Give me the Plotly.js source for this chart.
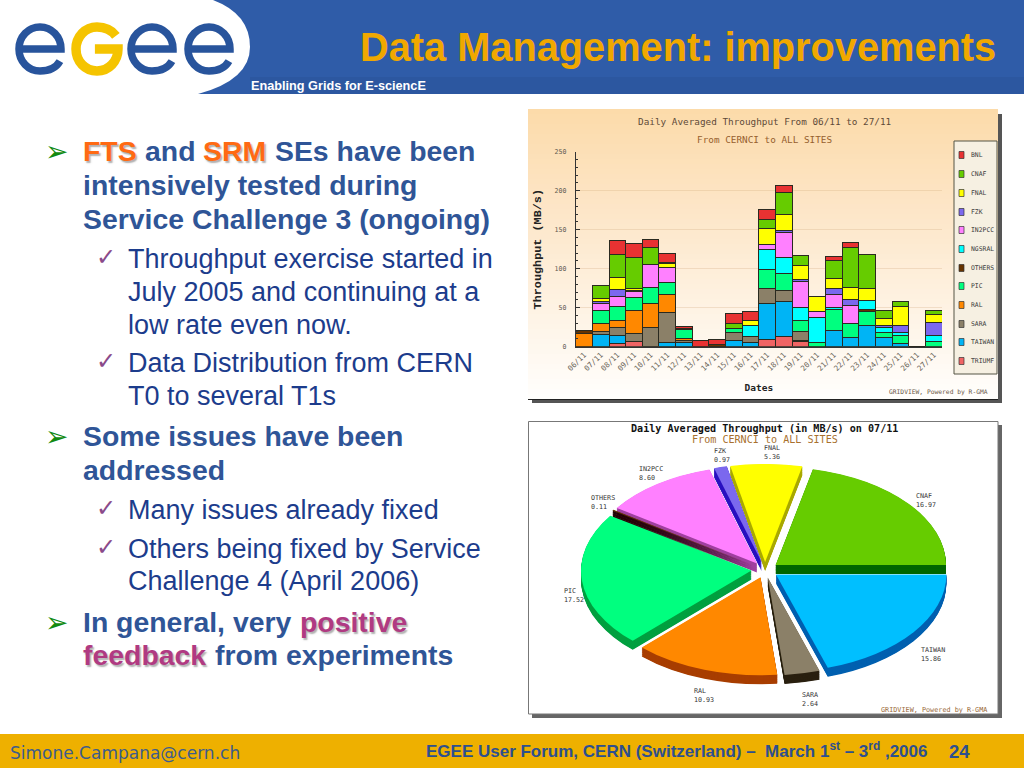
<!DOCTYPE html>
<html><head><meta charset="utf-8">
<script src="https://cdn.plot.ly/plotly-3.0.1.min.js"></script>
<style>html,body{margin:0;padding:0;background:#fff;overflow:hidden}
#main{position:absolute;left:0;top:0;width:1024px;height:768px}
#pie{position:absolute;left:580.6px;top:464.2px;width:368px;height:384px;transform:scaleY(0.575);transform-origin:0 0;pointer-events:none}
</style></head><body>
<div id="main"></div><div id="pie"></div>
<script>
// ---- stacked bar data (MB/s), one value per date
const dates=["06/11","07/11","08/11","09/11","10/11","11/11","12/11","13/11","14/11","15/11","16/11","17/11","18/11","19/11","20/11","21/11","22/11","23/11","24/11","25/11","26/11","27/11"];
const TRIUMF=[0,0,4,6.5,0,0,0,0,0,0,0,9.4,13.7,6.4,0,0,0,0,0,0,0,0];
const TAIWAN=[0,15.4,10.5,0,0,5.5,5.5,0,0,8.5,5.5,46.6,44,1.3,0,21.4,12,27.8,12,4.3,0,0];
const SARA=[0,4.3,9.5,10.5,24.8,38,3,0,0,9.9,7.3,18.8,14.5,11.5,0,0,0,0,0,0,0,0];
const RAL=[17,10.3,10,29,30.2,23.5,2.2,0,0,0,0,0,0,0,0,0,0,0,0,0,0,0];
const PIC=[0,17,17,17,21,15.5,11.3,0,0,5.1,0,24.2,21.8,14.6,5.5,26,18,17.2,6.4,10.7,0,6.4];
const OTHERS=[4,0,0,0,0,0,0,0,2.5,0,0,0,0,0,0,0,0,3,0,0,0,0];
const NGSRAL=[0,0,0,0,0,0,0,0,0,0,14.6,25.8,20.5,16.2,31.5,2.6,0,11,6,3.4,0,8.6];
const IN2PCC=[0,8.5,14,8,29.5,19.2,0,0,0,0,0,6,31.5,33.3,8,17.5,22.6,0,0,0,0,0];
const FZK=[0,2.2,8.5,1,0,0,0,0,0,0,0,0,3.6,3.5,0,6.5,7.4,0,2.6,9.4,0,15.8];
const FNAL=[0,4.3,15.5,3,0,4.5,0,0,0,0,5.9,20.9,20.1,17,19,13.6,16,15.8,9,23.2,0,10.7];
const CNAF=[0,17,29.5,40,21.5,1.3,0.8,0,0,6.5,0,11.5,27.7,13.2,0,22.4,51,43.2,10.6,7.5,0,5.5];
const BNL=[0,0,17.5,17.5,10.6,12.3,2.8,8.5,6.4,12.3,12,13.3,9.6,0,0,5.4,6.8,0,0,0,0,0];
// ---- pie data (MB/s on 07/11)
const pieLabels=["CNAF","FNAL","FZK","IN2PCC","OTHERS","PIC","RAL","SARA","TAIWAN"];
const pieValues=["16.97","5.36","0.97","8.60","0.11","17.52","10.93","2.64","15.86"];
// ---- styling tables, kept apart from the data
const legendOrder=["BNL","CNAF","FNAL","FZK","IN2PCC","NGSRAL","OTHERS","PIC","RAL","SARA","TAIWAN","TRIUMF"];
const siteColor={BNL:"#e83232",CNAF:"#66cc00",FNAL:"#ffff00",FZK:"#7b68ee",IN2PCC:"#ff80ff",NGSRAL:"#00ffff",OTHERS:"#663300",PIC:"#00ff7f",RAL:"#ff8800",SARA:"#8b8068",TAIWAN:"#00b4f5",TRIUMF:"#f06464"};
const pieBright=["#66cc00","#ffff00","#7b68ee","#ff80ff","#663300","#00ff7f","#ff8800","#8b8068","#00bfff"];
const pieDark=["#006600","#aaaa00","#2a10c0","#a040a0","#200000","#00a040","#a83e00","#2a2010","#0060b0"];
const pieLabelPos=[[916,496],[764,448],[714,451],[639,469],[591,498],[564,591],[694,691],[802,695],[921,650]];
const stackSeries=[["TRIUMF",TRIUMF],["TAIWAN",TAIWAN],["SARA",SARA],["RAL",RAL],["PIC",PIC],["OTHERS",OTHERS],["NGSRAL",NGSRAL],["IN2PCC",IN2PCC],["FZK",FZK],["FNAL",FNAL],["CNAF",CNAF],["BNL",BNL]];

const W=1024,H=768;
const px=x=>x/W, py=y=>1-y/H;
const MONO='"DejaVu Sans Mono",monospace', ARIAL='"Liberation Sans",Arial,sans-serif';
const shapes=[],ann=[];
function rect(x0,y0,x1,y1,fill,line){shapes.push({type:"rect",xref:"paper",yref:"paper",x0:px(x0),x1:px(x1),y0:py(y1),y1:py(y0),fillcolor:fill,line:line?{color:line,width:1}:{width:0},layer:"below"});}
function path(cmds,o){
  const d=cmds.map(c=>{let s=c[0];for(let i=1;i<c.length;i+=2)s+=(i>1?" ":"")+px(c[i]).toFixed(5)+","+py(c[i+1]).toFixed(5);return s;}).join(" ");
  shapes.push(Object.assign({type:"path",xref:"paper",yref:"paper",path:d,layer:"below"},o));
}
function text(x,y,t,size,color,o){o=o||{};ann.push({xref:"paper",yref:"paper",x:px(x),y:py(y),text:t,showarrow:false,xanchor:o.anchor||"left",yanchor:"middle",align:o.align||"left",font:{family:o.family||ARIAL,size:size,color:color,shadow:o.shadow||"none"},borderpad:0,borderwidth:0});}

// header + footer
rect(0,0,1024,94,"#2f5ca8");
rect(250,77,1024,94,"#2c57a0");
path([["M",0,0],["L",213,0],["Q",250,14,250,47],["Q",250,80,198,94],["L",0,94],["Z"]],{fillcolor:"#ffffff",line:{width:0}});
rect(0,734,1024,768,"#eeb000");
function logoE(cx,col,w){const rx=21,ry=22,cy=49,k=.56;
 path([["M",cx-rx,cy],["L",cx+rx,cy],["C",cx+rx,cy-ry*k,cx+rx*k,cy-ry,cx,cy-ry],["C",cx-rx*k,cy-ry,cx-rx,cy-ry*k,cx-rx,cy],["C",cx-rx,cy+ry*k,cx-rx*k,cy+ry,cx,cy+ry],["C",cx+rx*.5,cy+ry,cx+rx*.8,cy+ry*.8,cx+rx*.95,cy+ry*.55]],{line:{color:col,width:w}});}
function logoG(cx,col,w){const rx=21,ry=22,cy=49,k=.56;
 path([["M",cx+rx*.9,cy-ry*.6],["C",cx+rx*.7,cy-ry*.85,cx+rx*.4,cy-ry,cx,cy-ry],["C",cx-rx*k,cy-ry,cx-rx,cy-ry*k,cx-rx,cy],["C",cx-rx,cy+ry*k,cx-rx*k,cy+ry,cx,cy+ry],["C",cx+rx*k,cy+ry,cx+rx,cy+ry*k,cx+rx,cy],["L",cx-rx*.1,cy]],{line:{color:col,width:w}});}
logoE(40,"#28549c",7.5);logoG(97,"#f5c400",9.5);logoE(152,"#28549c",7.5);logoE(209,"#28549c",7.5);
text(996,47,"<b>Data Management: improvements</b>",39.75,"#f0a800",{anchor:"right"});
text(251,85.5,"<b>Enabling Grids for E-sciencE</b>",12.7,"#ffffff");
text(10,753,"Simone.Campana@cern.ch",17,"#3d5c8c",{family:'"DejaVu Sans",sans-serif'});
text(426,750,"<b>EGEE User Forum, CERN (Switzerland) –  March 1<sup>st</sup> – 3<sup>rd</sup> ,2006</b>",17,"#2d4f8f");
text(949,751,"<b>24</b>",18.5,"#2d4f8f");

// slide text
const BOLD="#2f5597",REG="#1c3c8c",ORANGE="#ff6a13",PURPLE="#b03a82";
const HARD="1.5px 1.5px 1.5px rgba(110,110,110,.55)";
const SZB=28.4,SZR=27;
function bold(x,y,t,c,s){text(x,y,"<b>"+t+"</b>",SZB,c||BOLD,{shadow:s||"none"});}
function reg(x,y,t){text(x,y,t,SZR,REG);}
function arrow(y){text(45,y,"➢",28,"#118a11",{family:'"DejaVu Sans"'});}
function tick(y){text(96,y,"✓",24,"#8a4a8a",{family:'"DejaVu Sans"'});}
arrow(151);bold(83,151,"FTS",ORANGE,HARD);bold(145,151,"and");bold(203,151,"SRM",ORANGE,HARD);bold(275,151,"SEs have been");
bold(83,185,"intensively tested during");bold(83,219,"Service Challenge 3 (ongoing)");
tick(257);reg(128,259,"Throughput exercise started in");reg(128,292,"July 2005 and continuing at a");reg(128,325,"low rate even now.");
tick(361);reg(128,363,"Data Distribution from CERN");reg(128,396,"T0 to several T1s");
arrow(436);bold(83,436,"Some issues have been");bold(83,470,"addressed");
tick(508);reg(128,510,"Many issues already fixed");
tick(547);reg(128,549,"Others being fixed by Service");reg(128,581,"Challenge 4 (April 2006)");
arrow(622);bold(83,622,"In general, very");bold(300,622,"positive",PURPLE,HARD);
bold(83,655,"feedback",PURPLE,HARD);bold(215,655,"from experiments");

// bar panel
rect(532,114,1002,403,"#555555");
const gradStops=[[0,[252,219,170]],[.35,[253,230,200]],[.7,[254,243,228]],[1,[255,254,252]]];
function gradColor(t){for(let i=1;i<gradStops.length;i++){if(t<=gradStops[i][0]){const a=gradStops[i-1],b=gradStops[i],u=(t-a[0])/(b[0]-a[0]);return "rgb("+a[1].map((v,j)=>Math.round(v+(b[1][j]-v)*u)).join(",")+")";}}return "#fff";}
const NSTR=58;for(let i=0;i<NSTR;i++){const y0=109+i*290/NSTR;rect(528,y0,998,y0+290/NSTR+.5,gradColor(i/(NSTR-1)));}
rect(528,399,998,400,"#222222");
text(764.5,121,"Daily Averaged Throughput From 06/11 to 27/11",9.35,"#5e4a38",{anchor:"center",family:MONO});
text(764.5,139,"From CERNCI to ALL SITES",9.35,"#96602e",{anchor:"center",family:MONO});
text(938,392,"GRIDVIEW, Powered by R-GMA",6.3,"#6d5a48",{anchor:"center",family:MONO});
// legend box
rect(954,141,997,374,"#f6f0e2","#555544");
const legendY=[155,174,193,212,230,249,268,286,305,324,342,361];
legendOrder.forEach((n,i)=>{const y=legendY[i];
 shapes.push({type:"rect",xref:"paper",yref:"paper",x0:px(959),x1:px(964),y0:py(y+3.5),y1:py(y-3.5),fillcolor:siteColor[n],line:{color:"#333",width:.7},layer:"above"});
 text(971,y,n,6.4,"#3c3c3c",{family:MONO});});

// pie panel
rect(532,425,1002,718,"#666666");
rect(528.5,421.5,998,714,"#ffffff","#777777");
text(764.5,428,"<b>Daily Averaged Throughput (in MB/s) on 07/11</b>",10.1,"#111111",{anchor:"center",family:MONO});
text(764.5,439,"From CERNCI to ALL SITES",10.1,"#a8702e",{anchor:"center",family:MONO});
text(934,710,"GRIDVIEW, Powered by R-GMA",6.8,"#9a6a3a",{anchor:"center",family:MONO});
pieLabels.forEach((n,i)=>{const p=pieLabelPos[i];text(p[0],p[1]+4,n+"<br>"+pieValues[i],6.7,"#333333",{family:MONO});});

// stacked bars
const barTraces=stackSeries.map(([n,v])=>({type:"bar",name:n,x:dates,y:v,marker:{color:siteColor[n],line:{color:"#2a2a20",width:1}},hoverinfo:"x+y+name",showlegend:false}));
const layout={width:W,height:H,margin:{l:0,r:0,t:0,b:0},paper_bgcolor:"#ffffff",plot_bgcolor:"rgba(0,0,0,0)",barmode:"stack",bargap:0,showlegend:false,
 xaxis:{domain:[px(575.7),px(942)],type:"category",categoryorder:"array",categoryarray:dates,range:[-.5,21.5],tickangle:-45,showgrid:false,showline:true,linecolor:"#333",linewidth:1,ticks:"",tickfont:{family:MONO,size:7.5,color:"#6a6458"},automargin:false,
   title:{text:"<b>Dates</b>",font:{family:MONO,size:9.5,color:"#222"},standoff:12}},
 yaxis:{domain:[py(346.7),py(151.7)],range:[0,250],tick0:0,dtick:50,ticks:"inside",ticklen:4,tickcolor:"#333",showline:true,linecolor:"#333",linewidth:1,gridcolor:"rgba(205,160,110,.25)",gridwidth:1,zeroline:false,tickfont:{family:MONO,size:6.6,color:"#5e5a50"},ticklabelstandoff:7,minor:{dtick:10,ticks:"inside",ticklen:2,tickcolor:"#333",showgrid:false},automargin:false,
   title:{text:"<b>Throughput (MB/s)</b>",font:{family:'"Liberation Mono",monospace',size:11.8,color:"#222"},standoff:10}},
 shapes:shapes,annotations:ann};
Plotly.newPlot("main",barTraces,layout,{staticPlot:true,displayModeBar:false});

// exploded pie: dark copies stepped downward form the rim, bright copy on top; div is squashed by CSS to the 3D ellipse
const DEPTH=15.65,STEPS=16,PW=368,PH=384;
const pieNums=pieValues.map(Number);
const pieTotal=pieNums.reduce((a,b)=>a+b,0);
const pieRotation=90-360*pieNums[0]/pieTotal;
const pieTraces=[];
for(let k=STEPS;k>=0;k--){const d=DEPTH*k/STEPS;
 pieTraces.push({type:"pie",labels:pieLabels,values:pieNums,sort:false,direction:"counterclockwise",rotation:pieRotation,pull:.08,textinfo:"none",hoverinfo:"skip",
  marker:{colors:k===0?pieBright:pieDark,line:{width:0}},domain:{x:[0,1],y:[1-(PW+d)/PH,1-d/PH]},showlegend:false});}
Plotly.newPlot("pie",pieTraces,{width:PW,height:PH,margin:{l:0,r:0,t:0,b:0},paper_bgcolor:"rgba(0,0,0,0)",plot_bgcolor:"rgba(0,0,0,0)",showlegend:false},{staticPlot:true,displayModeBar:false});
</script></body></html>
